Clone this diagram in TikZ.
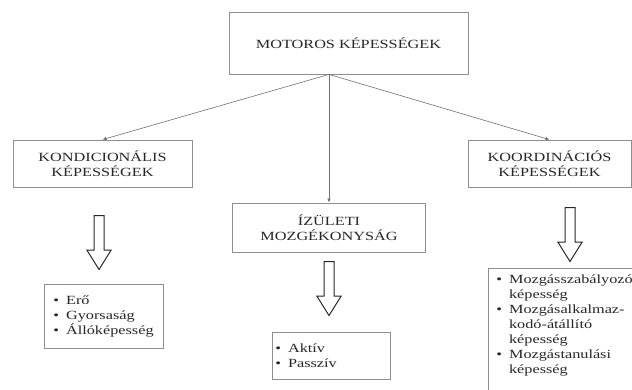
\documentclass[tikz,border=0pt]{standalone}
\usepackage{fontspec}
\setmainfont{Liberation Serif}[FakeStretch=1.3]
\usepackage{xcolor}
\usepackage{tikz}
\usetikzlibrary{positioning,arrows.meta,shapes.arrows}
\definecolor{frame}{HTML}{8E8E8E}
\definecolor{ink}{HTML}{262626}
\definecolor{link}{HTML}{707070}
\newcommand{\itm}{\textbullet\hspace{7pt}}
\newcommand{\cnt}{\phantom{\textbullet}\hspace{7pt}}

\begin{document}
\begin{tikzpicture}[
    x=1pt, y=-1pt,
    every node/.style={
        font=\fontsize{12.5}{15}\selectfont,
        text=ink,
        align=center
    },
    box/.style={
        rectangle,
        draw=frame,
        line width=0.8pt,
        inner sep=0pt
    },
    list/.style={
        rectangle,
        draw=frame,
        line width=0.8pt,
        align=left,
        anchor=north west,
        inner ysep=0pt
    },
    arrow/.style={
        -{Latex[length=4pt,width=3.5pt]},
        line width=0.6pt,
        color=link
    },
    bigarrow/.style={
        single arrow,
        draw=ink,
        line width=1pt,
        rotate=-90,
        minimum height=54pt,
        minimum width=18pt,
        inner xsep=0pt,
        inner ysep=4.5pt,
        single arrow tip angle=64
    }
]
\useasboundingbox (0,0) rectangle (632,389);

\node[box, minimum width=239, minimum height=62] (motor) at (348.5,43) {MOTOROS KÉPESSÉGEK};
\node[box, minimum width=179, minimum height=47] (kond) at (102.5,163.5) {KONDICIONÁLIS\\KÉPESSÉGEK};
\node[box, minimum width=163, minimum height=47] (koord) at (549.5,163.5) {KOORDINÁCIÓS\\KÉPESSÉGEK};
\node[box, minimum width=193, minimum height=49] (izul) at (329,227.5) {ÍZÜLETI\\MOZGÉKONYSÁG};

\coordinate (split) at (motor.south -| izul.north);
\draw[arrow] (split) -- (kond.north);
\draw[arrow] (split) -- (izul.north);
\draw[arrow] (split) -- (koord.north);

\node[bigarrow] (down1) at (99,238.5) {};
\node[bigarrow] (down2) at (329,284.5) {};
\node[bigarrow] (down3) at (570,230.5) {};

\node[list, inner xsep=9pt, text width=101pt, minimum height=64] (erok) at (44,284)
    {\itm Erő\\\itm Gyorsaság\\\itm Állóképesség};
\node[list, inner xsep=3pt, text width=112pt, minimum height=47] (mozg) at (272,332)
    {\itm Aktív\\\itm Passzív};
\node[list, inner xsep=8pt, inner ysep=6pt] (koordlist) at (488,268)
    {\begin{minipage}[t][118pt][t]{160pt}\raggedright
     \itm Mozgásszabályozó\\\cnt képesség\\
     \itm Mozgásalkalmaz-\\\cnt kodó-átállító\\\cnt képesség\\
     \itm Mozgástanulási\\\cnt képesség
     \end{minipage}};

\end{tikzpicture}
\end{document}
